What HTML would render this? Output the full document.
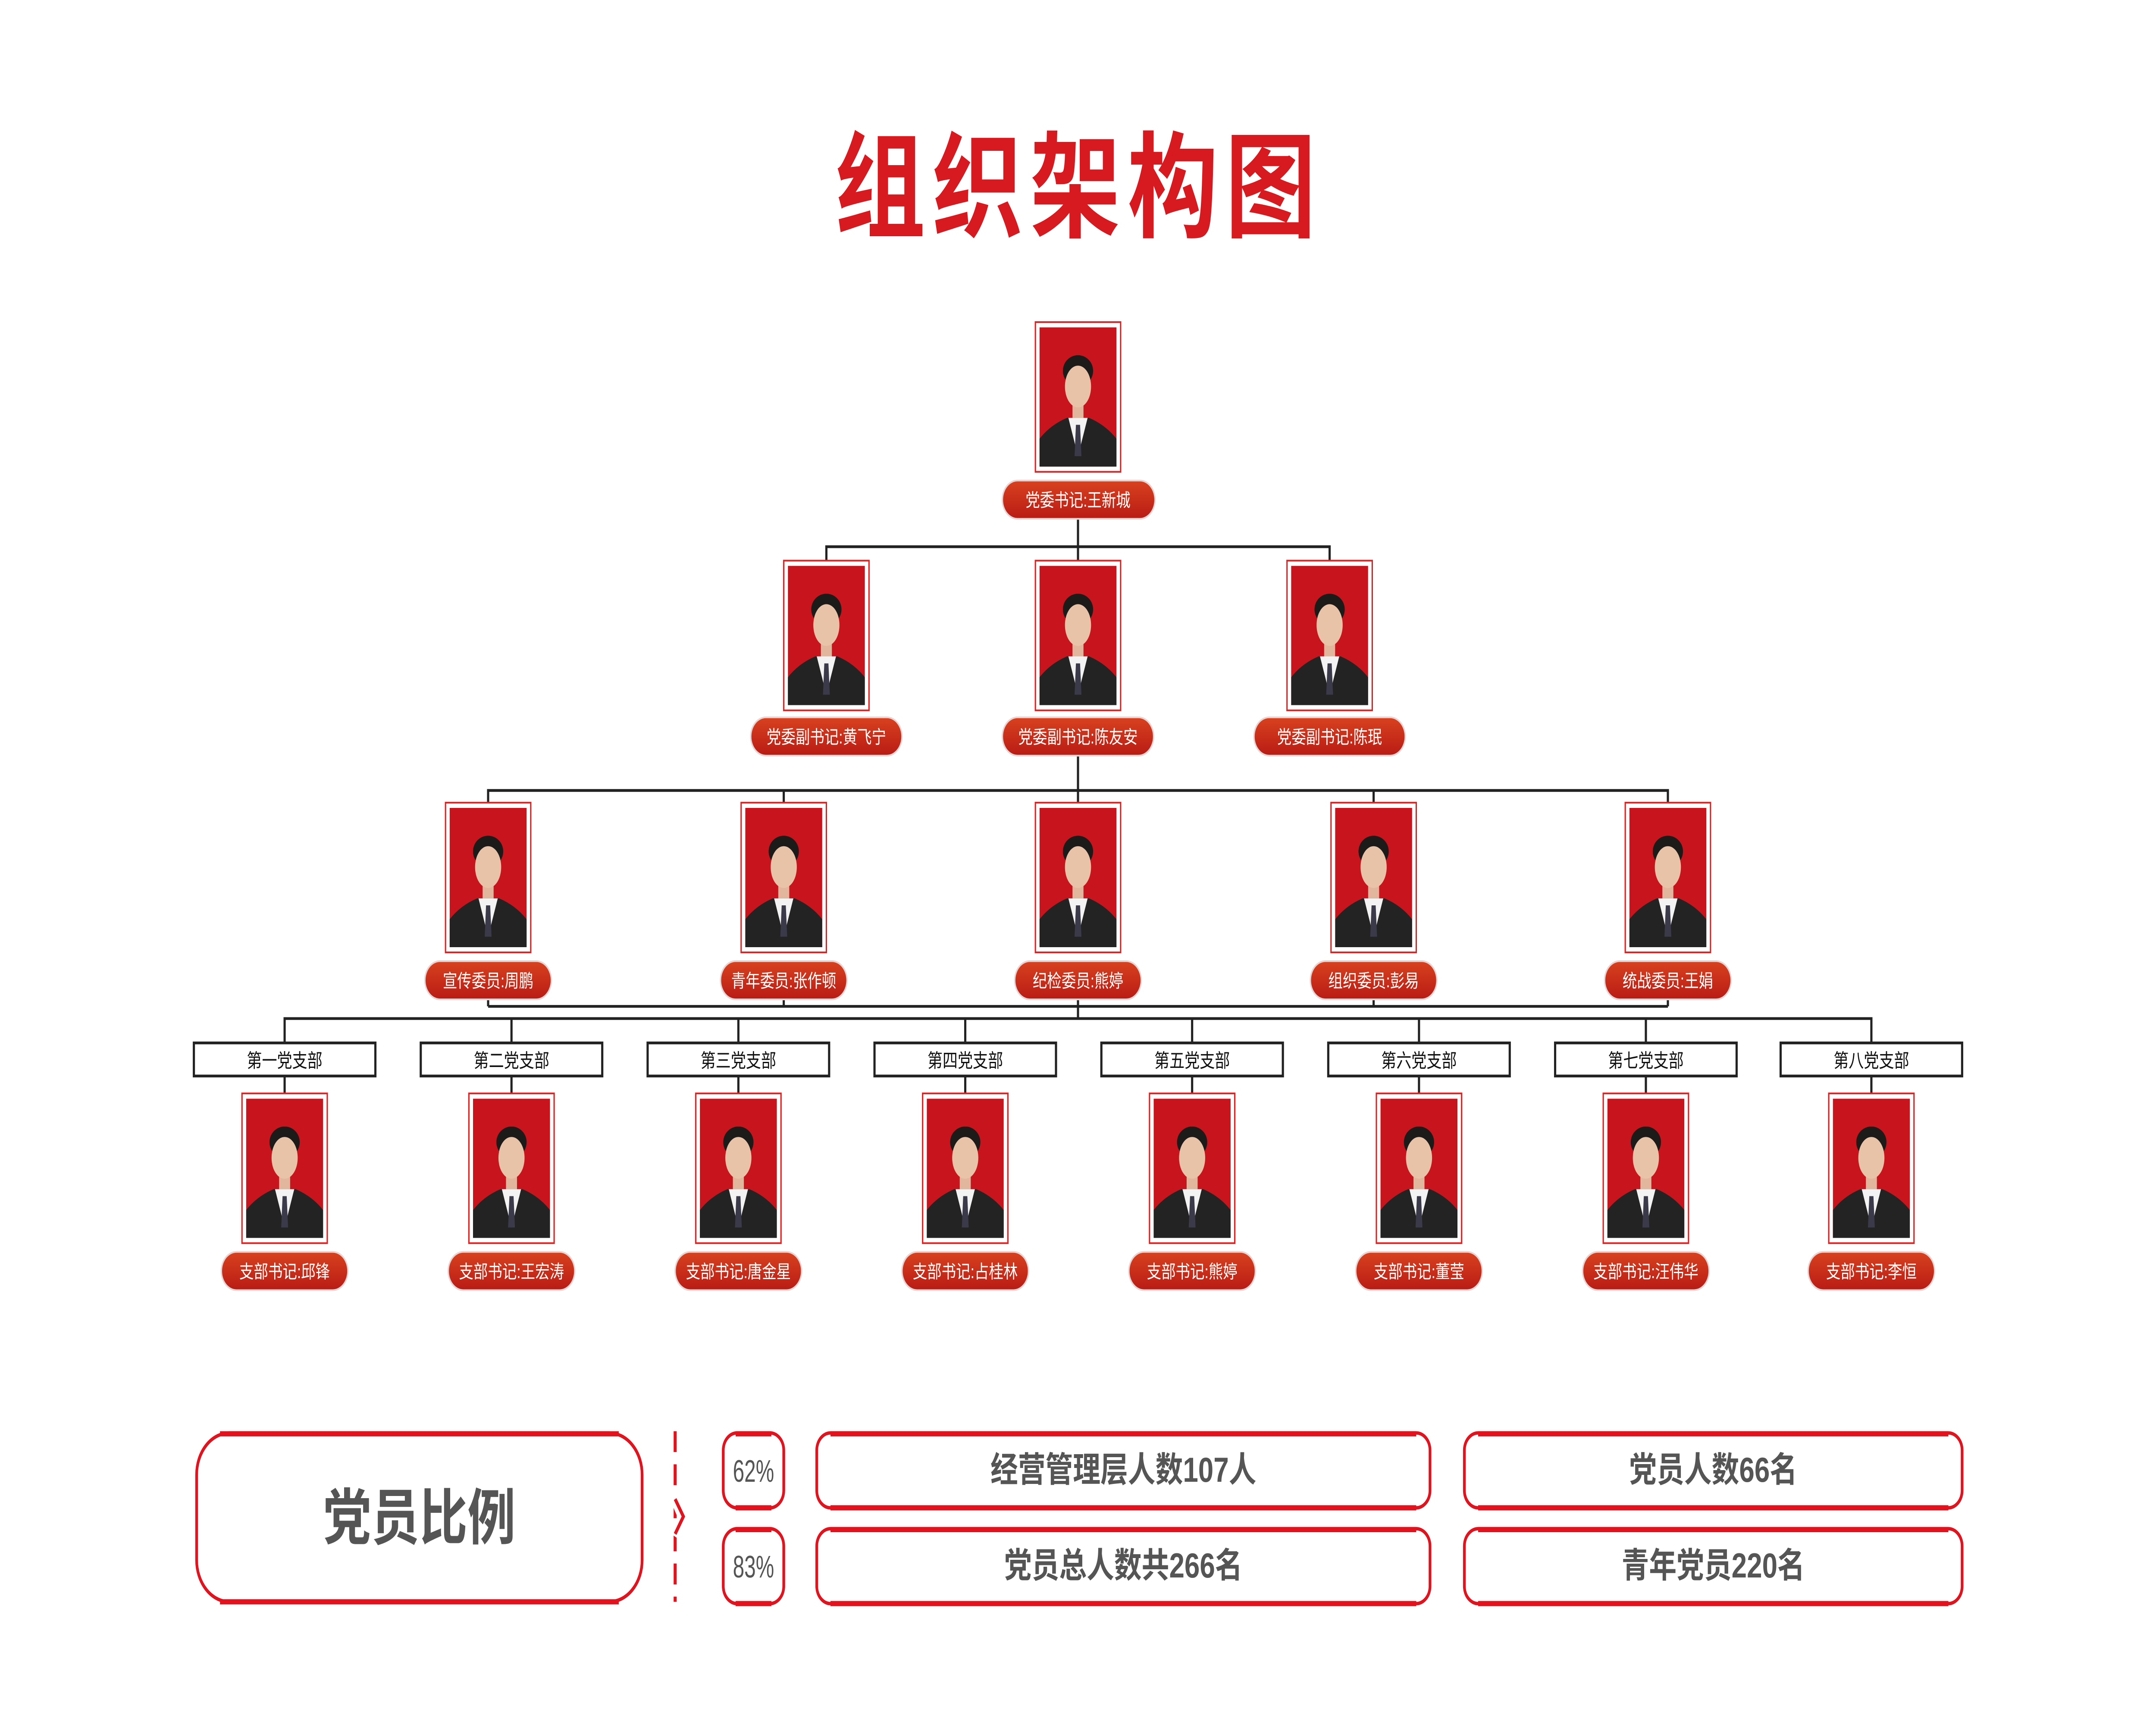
<!DOCTYPE html>
<html><head><meta charset="utf-8"><meta name="viewport" content="width=6332">
<style>
html,body{margin:0;padding:0;background:#fff;width:100%;height:100%;overflow:hidden;}
svg.main{display:block;width:100vw;height:100vh;}
text{font-family:"Liberation Sans","Noto Sans CJK SC",sans-serif;}
.pl{fill:#fff;font-size:10.5px;text-anchor:middle;}
.bt{fill:#111;font-size:11px;text-anchor:middle;}
.st{fill:#555;font-weight:bold;font-size:20px;text-anchor:middle;}
</style></head><body>
<svg class="main" viewBox="0 0 1568 985" preserveAspectRatio="none" xmlns="http://www.w3.org/2000/svg">
<defs>
<linearGradient id="g" x1="0" y1="0" x2="0" y2="1"><stop offset="0" stop-color="#d8421f"/><stop offset="1" stop-color="#b91b14"/></linearGradient>
<symbol id="m" viewBox="0 0 56 80">
<rect width="56" height="80" fill="#c8141c"/>
<rect x="24" y="42" width="8" height="12" fill="#e2b69c"/>
<path d="M0 80 L0 64 Q8 56 20 52 L36 52 Q48 56 56 64 L56 80Z" fill="#232323"/>
<path d="M21 52 L28 74 L35 52Z" fill="#f3f3f3"/>
<path d="M26.5 56 L29.5 56 L30.5 74 L25.5 74Z" fill="#3a3a4a"/>
<ellipse cx="28" cy="25" rx="11" ry="9" fill="#1d1a1a"/>
<ellipse cx="28" cy="34" rx="9.5" ry="12" fill="#e9c3a8"/>
</symbol>
<g id="ph"><rect x="-31" y="0" width="62" height="86" fill="#fff" stroke="#d42828" stroke-width="1"/><use href="#m" x="-28" y="3" width="56" height="80"/></g>
</defs>
<rect width="1568" height="985" fill="#fff"/>
<text x="782" y="131" text-anchor="middle" font-size="66" font-weight="bold" fill="#d71920" textLength="350" lengthAdjust="spacing">组织架构图</text>

<g stroke="#222" stroke-width="1.6" fill="none">
<path d="M784 298V314M601 322V314H967V322M784 314V322"/>
<path d="M784 434V454M355 461V454H1213V461M570 454V461M784 454V461M999 454V461"/>
<path d="M355 574V578M570 574V578M999 574V578M1213 574V578M355 578H1213M784 574V585"/>
<path d="M207 599V585H1361V599M372 585V599M537 585V599M702 585V599M867 585V599M1032 585V599M1197 585V599"/>
<path d="M207 618V628M372 618V628M537 618V628M702 618V628M867 618V628M1032 618V628M1197 618V628M1361 618V628"/>
</g>

<use href="#ph" x="784" y="185"/>
<use href="#ph" x="601" y="322"/><use href="#ph" x="784" y="322"/><use href="#ph" x="967" y="322"/>
<use href="#ph" x="355" y="461"/><use href="#ph" x="570" y="461"/><use href="#ph" x="784" y="461"/><use href="#ph" x="999" y="461"/><use href="#ph" x="1213" y="461"/>
<use href="#ph" x="207" y="628"/><use href="#ph" x="372" y="628"/><use href="#ph" x="537" y="628"/><use href="#ph" x="702" y="628"/><use href="#ph" x="867" y="628"/><use href="#ph" x="1032" y="628"/><use href="#ph" x="1197" y="628"/><use href="#ph" x="1361" y="628"/>

<g stroke="#e6d6d6" stroke-width="1" fill="url(#g)">
<rect x="729" y="276" width="111" height="22" rx="11"/>
<rect x="546" y="412" width="110" height="22" rx="11"/><rect x="729" y="412" width="110" height="22" rx="11"/><rect x="912" y="412" width="110" height="22" rx="11"/>
<rect x="309" y="552" width="92" height="22" rx="11"/><rect x="524" y="552" width="92" height="22" rx="11"/><rect x="738" y="552" width="92" height="22" rx="11"/><rect x="953" y="552" width="92" height="22" rx="11"/><rect x="1167" y="552" width="92" height="22" rx="11"/>
<rect x="161" y="719" width="92" height="22" rx="11"/><rect x="326" y="719" width="92" height="22" rx="11"/><rect x="491" y="719" width="92" height="22" rx="11"/><rect x="656" y="719" width="92" height="22" rx="11"/><rect x="821" y="719" width="92" height="22" rx="11"/><rect x="986" y="719" width="92" height="22" rx="11"/><rect x="1151" y="719" width="92" height="22" rx="11"/><rect x="1315" y="719" width="92" height="22" rx="11"/>
</g>
<text class="pl" x="784" y="291">党委书记:王新城</text>
<text class="pl" x="601" y="427">党委副书记:黄飞宁</text>
<text class="pl" x="784" y="427">党委副书记:陈友安</text>
<text class="pl" x="967" y="427">党委副书记:陈珉</text>
<text class="pl" x="355" y="567">宣传委员:周鹏</text>
<text class="pl" x="570" y="567">青年委员:张作顿</text>
<text class="pl" x="784" y="567">纪检委员:熊婷</text>
<text class="pl" x="999" y="567">组织委员:彭易</text>
<text class="pl" x="1213" y="567">统战委员:王娟</text>
<text class="pl" x="207" y="734">支部书记:邱锋</text>
<text class="pl" x="372" y="734">支部书记:王宏涛</text>
<text class="pl" x="537" y="734">支部书记:唐金星</text>
<text class="pl" x="702" y="734">支部书记:占桂林</text>
<text class="pl" x="867" y="734">支部书记:熊婷</text>
<text class="pl" x="1032" y="734">支部书记:董莹</text>
<text class="pl" x="1197" y="734">支部书记:汪伟华</text>
<text class="pl" x="1361" y="734">支部书记:李恒</text>

<g fill="#fff" stroke="#222" stroke-width="1.6">
<rect x="141" y="599" width="132" height="19"/><rect x="306" y="599" width="132" height="19"/><rect x="471" y="599" width="132" height="19"/><rect x="636" y="599" width="132" height="19"/><rect x="801" y="599" width="132" height="19"/><rect x="966" y="599" width="132" height="19"/><rect x="1131" y="599" width="132" height="19"/><rect x="1295" y="599" width="132" height="19"/>
</g>
<text class="bt" x="207" y="613">第一党支部</text>
<text class="bt" x="372" y="613">第二党支部</text>
<text class="bt" x="537" y="613">第三党支部</text>
<text class="bt" x="702" y="613">第四党支部</text>
<text class="bt" x="867" y="613">第五党支部</text>
<text class="bt" x="1032" y="613">第六党支部</text>
<text class="bt" x="1197" y="613">第七党支部</text>
<text class="bt" x="1361" y="613">第八党支部</text>

<g fill="none" stroke="#e0141e" stroke-width="2">
<rect x="143" y="823" width="324" height="97" rx="24"/>
<rect x="526" y="823" width="44" height="43" rx="10"/>
<rect x="526" y="878" width="44" height="43" rx="10"/>
<rect x="594" y="823" width="446" height="43" rx="10"/>
<rect x="594" y="878" width="446" height="43" rx="10"/>
<rect x="1065" y="823" width="362" height="43" rx="10"/>
<rect x="1065" y="878" width="362" height="43" rx="10"/>
</g>
<g stroke="#e0141e" stroke-width="3">
<path d="M160 823.5H450M160 920H450M535 823.5H561M535 866H561M535 878.5H561M535 921H561M604 823.5H1030M604 866H1030M604 878.5H1030M604 921H1030M1075 823.5H1417M1075 866H1417M1075 878.5H1417M1075 921H1417"/>
</g>
<text x="305" y="884" text-anchor="middle" font-size="35" font-weight="bold" fill="#555">党员比例</text>
<path d="M491 822V920" stroke="#e0141e" stroke-width="2.2" stroke-dasharray="12 7" fill="none"/>
<path d="M490 860 L496 871 L490 882" stroke="#fff" stroke-width="6" fill="none"/>
<path d="M491 861 L497 871 L491 881" stroke="#e0141e" stroke-width="2.2" fill="none"/>
<text x="548" y="851" text-anchor="middle" font-size="18" fill="#555" textLength="30" lengthAdjust="spacingAndGlyphs">62%</text>
<text x="548" y="906" text-anchor="middle" font-size="18" fill="#555" textLength="30" lengthAdjust="spacingAndGlyphs">83%</text>
<text class="st" x="817" y="851">经营管理层人数107人</text>
<text class="st" x="817" y="906">党员总人数共266名</text>
<text class="st" x="1246" y="851">党员人数66名</text>
<text class="st" x="1246" y="906">青年党员220名</text>
</svg>
</body></html>
